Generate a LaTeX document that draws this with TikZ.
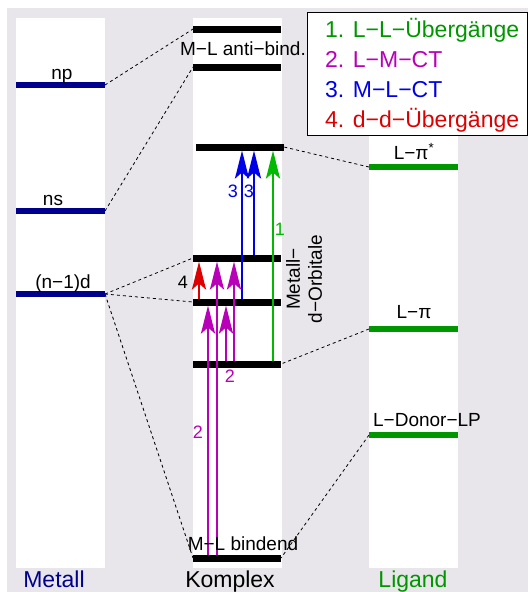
\documentclass[tikz,border=0pt]{standalone}
\usepackage{fontspec}
\setmainfont{Liberation Sans}
\usetikzlibrary{arrows.meta}
\definecolor{bggray}{RGB}{232,230,234}
\definecolor{metblue}{RGB}{0,0,140}
\definecolor{liggreen}{RGB}{0,150,0}
\definecolor{llgreen}{RGB}{0,185,0}
\definecolor{lmmag}{RGB}{185,0,185}
\definecolor{mlblue}{RGB}{0,0,230}
\definecolor{ddred}{RGB}{220,0,0}
\tikzset{mlevel/.style={line width=6pt,metblue},
  klevel/.style={line width=7pt,black},
  llevel/.style={line width=6pt,liggreen},
  corr/.style={line width=0.8pt,dash pattern=on 3pt off 3pt},
  trans/.style={line width=2.8pt,-{Stealth[length=28pt,width=14pt,inset=6pt]},
        shorten >=3.5pt,shorten <=3.5pt},
  lab/.style={font=\fontsize{19}{22}\selectfont,anchor=base,inner sep=0pt},
  num/.style={font=\fontsize{18}{21}\selectfont,anchor=base,inner sep=0pt},
  big/.style={font=\fontsize{23}{27}\selectfont,anchor=base,inner sep=0pt}}

\begin{document}
\begin{tikzpicture}[x=1pt,y=-1pt]
\useasboundingbox (0,0) rectangle (528,592);
\fill[bggray] (7,8) rectangle (528,592);
% columns
\foreach \x in {16,193,369}
  \fill[white] (\x,18) rectangle ++(89,550);
% levels: Metall
\foreach \n/\y in {np/85,ns/211,d/294}
  {\coordinate (\n-w) at (16,\y); \coordinate (\n-e) at (105,\y);}
% levels: Komplex
\foreach \n/\y in {a1/29,a2/67,pis/147,du/258,dl/302,kpi/364,b/558}
  {\coordinate (\n-w) at (193,\y); \coordinate (\n-e) at (281,\y);}
% levels: Ligand
\foreach \n/\y in {lps/167,lp/329,ld/435}
  {\coordinate (\n-w) at (369,\y); \coordinate (\n-e) at (458,\y);}
% correlation lines
\draw[corr] (np-e) -- (a1-w);
\draw[corr] (ns-e) -- (a2-w);
\draw[corr] (d-e) -- (du-w);
\draw[corr] (d-e) -- (dl-w);
\draw[corr] (d-e) -- (b-w);
\draw[corr] (lps-w) -- ([xshift=3]pis-e);
\draw[corr] (lp-w) -- (kpi-e);
\draw[corr] (ld-w) -- (b-e);
\foreach \n in {np,ns,d} \draw[mlevel] (\n-w) -- (\n-e);
\foreach \n in {a1,a2,du,dl,kpi,b} \draw[klevel] (\n-w) -- (\n-e);
\draw[klevel] ([xshift=3]pis-w) -- ([xshift=3]pis-e);
\foreach \n in {lps,lp,ld} \draw[llevel] (\n-w) -- (\n-e);
% transitions
\foreach \dx/\a/\b/\c in {6/dl/du/ddred,15/b/dl/lmmag,24/b/du/lmmag,
    33/kpi/dl/lmmag,41/kpi/du/lmmag,49/dl/pis/mlblue,61/du/pis/mlblue,80/kpi/pis/llgreen}
  \draw[trans,\c] ([xshift=\dx]\a-w) -- ([xshift=\dx]\b-w);
% labels
\node[lab] (lnp) at (62,79) {np};
\node[lab] (lns) at (53,205) {ns};
\node[lab] (ld) at (63,288) {(n\textminus1)d};
\node[lab] (lanti) at (243,55) {M\textminus L anti\textminus bind.};
\node[lab] (lbind) at (243,550) {M\textminus L bindend};
\node[lab] (llps) at (414,159) {L\textminus π\textsuperscript{*}};
\node[lab] (llp) at (414,318) {L\textminus π};
\node[lab] (lld) at (427,426) {L\textminus Donor\textminus LP};
\node[lab,anchor=center,rotate=90,align=center] (ldorb) at (304,279)
  {Metall\textminus\\d\textminus Orbitale};
\node[num,llgreen] (n1) at (280,235) {1};
\node[num,mlblue] (n3a) at (233,197) {3};
\node[num,mlblue] (n3b) at (249,197) {3};
\node[num] (n4) at (183,288) {4};
\node[num,lmmag] (n2a) at (230,382) {2};
\node[num,lmmag] (n2b) at (198,438) {2};
\node[big,metblue] (tmet) at (54,587) {Metall};
\node[big] (tkom) at (230,587) {Komplex};
\node[big,liggreen] (tlig) at (413,587) {Ligand};
% legend
\draw[fill=white,line width=1pt] (307,12) rectangle (527,135);
\node[big,anchor=base west,liggreen] (k1) at (325,37) {1. L\textminus L\textminus Übergänge};
\node[big,anchor=base west,lmmag] (k2) at (325,67) {2. L\textminus M\textminus CT};
\node[big,anchor=base west,mlblue] (k3) at (325,97) {3. M\textminus L\textminus CT};
\node[big,anchor=base west,ddred] (k4) at (325,127) {4. d\textminus d\textminus Übergänge};
\end{tikzpicture}
\end{document}
